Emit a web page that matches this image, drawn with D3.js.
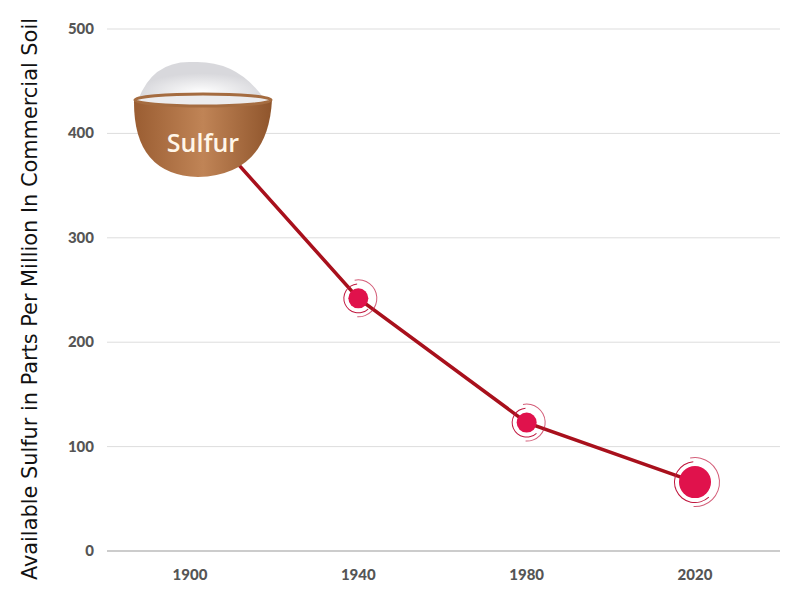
<!DOCTYPE html><html><head><meta charset="utf-8"><script src="https://cdn.jsdelivr.net/npm/d3@7"></script>
<style>body{margin:0;background:#fff}</style></head><body><svg id="c" width="800" height="600"></svg>
<script>
const years=["1900","1940","1980","2020"];
const values=[422,242,123,66];
const yTicks=[0,100,200,300,400,500];
const markerSizes=[0,10,10,16];
const svg=d3.select("#c");
const m={l:107,r:780,t:29,b:551};
const x=d3.scalePoint().domain(years).range([190,695]);
const y=d3.scaleLinear().domain([0,500]).range([m.b,m.t]);
const g=svg.append("g");
yTicks.forEach(t=>{g.append("line").attr("x1",m.l).attr("x2",m.r).attr("y1",y(t)).attr("y2",y(t)).attr("stroke",t===0?"#999":"#ddd").attr("stroke-width",1);});
g.selectAll(".yl").data(yTicks).join("text").attr("x",94).attr("y",d=>y(d)+5).attr("text-anchor","end").attr("font-family","Lato, sans-serif").attr("font-weight",900).attr("font-size",15).attr("fill","#555").text(d=>d);
g.selectAll(".xl").data(years).join("text").attr("x",d=>x(d)).attr("y",580).attr("text-anchor","middle").attr("font-family","Lato, sans-serif").attr("font-weight",900).attr("font-size",15).attr("fill","#555").text(d=>d);
svg.append("text").attr("transform","translate(37,299) rotate(-90)").attr("text-anchor","middle").attr("font-family","DejaVu Sans Condensed, Roboto, sans-serif").attr("font-weight",500).attr("font-size",21).attr("textLength",562).attr("lengthAdjust","spacingAndGlyphs").attr("fill","#111").text("Available Sulfur in Parts Per Million In Commercial Soil");
const pts=years.map((yr,i)=>[x(yr),y(values[i])]);
svg.append("path").attr("d",d3.line()(pts)).attr("fill","none").attr("stroke","#a8101c").attr("stroke-width",3.5);
pts.forEach((p,i)=>{const r=markerSizes[i];if(!r)return;
 svg.append("path").attr("transform",`translate(${p})`).attr("d",d3.arc()({innerRadius:r+4,outerRadius:r+5,startAngle:2.4,endAngle:6.2})).attr("fill","#c0183f");
 svg.append("path").attr("transform",`translate(${p})`).attr("d",d3.arc()({innerRadius:r+8,outerRadius:r+9,startAngle:-0.2,endAngle:3.2})).attr("fill","#c0183f").attr("opacity",0.7);
 svg.append("circle").attr("cx",p[0]).attr("cy",p[1]).attr("r",r).attr("fill","#e0124c");});
// bowl
const bx=203,by=100;
const defs=svg.append("defs");
const gr=defs.append("linearGradient").attr("id","wood").attr("x1",0).attr("x2",1);
gr.append("stop").attr("offset",0).attr("stop-color","#9a5d32");gr.append("stop").attr("offset",0.5).attr("stop-color","#c08456");gr.append("stop").attr("offset",1).attr("stop-color","#8f552c");
const sg=defs.append("radialGradient").attr("id","salt").attr("cy",0.8);
sg.append("stop").attr("offset",0).attr("stop-color","#ffffff");sg.append("stop").attr("offset",1).attr("stop-color","#d8d8dc");
svg.append("path").attr("d",`M${bx-65},${by} Q${bx-50},${by-40} ${bx-10},${by-38} Q${bx+35},${by-40} ${bx+62},${by} Z`).attr("fill","url(#salt)");
svg.append("path").attr("d",`M${bx-69},${by} Q${bx-70},${by+75} ${bx-5},${by+77} Q${bx+65},${by+75} ${bx+69},${by} Z`).attr("fill","url(#wood)");
svg.append("ellipse").attr("cx",bx).attr("cy",by).attr("rx",68).attr("ry",6).attr("fill","#ececee").attr("stroke","#a56c40").attr("stroke-width",3);
svg.append("text").attr("x",bx).attr("y",by+52).attr("text-anchor","middle").attr("font-family","Open Sans, sans-serif").attr("font-weight",600).attr("font-size",25).attr("fill","#fff6e8").text("Sulfur");
</script></body></html>
